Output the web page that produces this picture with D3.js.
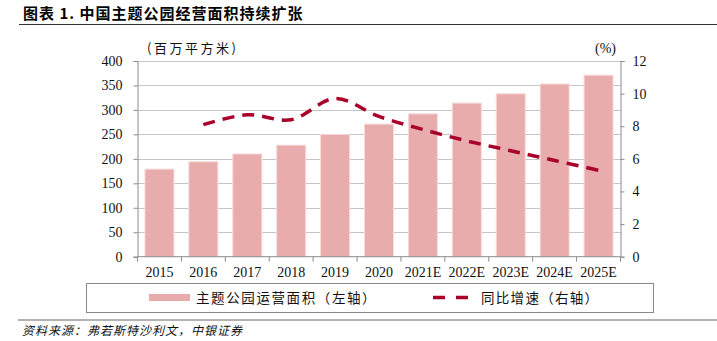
<!DOCTYPE html>
<html>
<head>
<meta charset="utf-8">
<script src="https://cdn.jsdelivr.net/npm/d3@7"></script>
<style>
  body { margin: 0; background: #fff; }
  svg { display: block; }
  .num { font-family: "Liberation Serif", "Times New Roman", serif; }
  .cjk { font-family: "Noto Sans CJK SC", sans-serif; }
</style>
</head>
<body>
<svg id="chart"></svg>
<script>
var years = ["2015", "2016", "2017", "2018", "2019", "2020", "2021E", "2022E", "2023E", "2024E", "2025E"];
var area = [179, 194, 210, 228, 250, 271, 292, 314, 333, 353, 371];
var growthYears = ["2016", "2017", "2018", "2019", "2020", "2021E", "2022E", "2023E", "2024E", "2025E"];
var growth = [8.1, 8.7, 8.4, 9.7, 8.6, 7.8, 7.1, 6.5, 5.9, 5.3];
var leftTicks = [0, 50, 100, 150, 200, 250, 300, 350, 400];
var rightTicks = [0, 2, 4, 6, 8, 10, 12];

var width = 717, height = 341;
var barColor = "#e9acac", lineColor = "#a8002b", axisColor = "#8c8c8c";

var svg = d3.select("#chart").attr("width", width).attr("height", height);

// title and rule
svg.append("text").attr("class", "cjk")
    .attr("x", 23).attr("y", 19)
    .style("font-size", "15px").style("font-weight", "bold").style("letter-spacing", "1px")
    .text("图表 1. 中国主题公园经营面积持续扩张");
svg.append("line").attr("x1", 19).attr("x2", width).attr("y1", 24.5).attr("y2", 24.5)
    .attr("stroke", "#333").attr("stroke-width", 1.2);

var m = { left: 137.5, right: 620.5, top: 61, bottom: 256.7 };

var x = d3.scaleBand().domain(years).range([m.left, m.right]).paddingInner(0.34).paddingOuter(0.17);
var yL = d3.scaleLinear().domain([0, 400]).range([m.bottom, m.top]);
var yR = d3.scaleLinear().domain([0, 12]).range([m.bottom, m.top]);

// dotted gridlines
svg.append("g").selectAll("line").data(leftTicks.slice(1)).enter().append("line")
    .attr("x1", m.left).attr("x2", m.right)
    .attr("y1", function (d) { return Math.round(yL(d)) + 0.5; })
    .attr("y2", function (d) { return Math.round(yL(d)) + 0.5; })
    .attr("stroke", "#8a8a8a").attr("stroke-dasharray", "1,1");

// bars
svg.append("g").selectAll("rect").data(years).enter().append("rect")
    .attr("x", function (d) { return x(d); })
    .attr("width", x.bandwidth())
    .attr("y", function (d, i) { return yL(area[i]); })
    .attr("height", function (d, i) { return m.bottom - yL(area[i]); })
    .attr("fill", barColor)
    .attr("stroke", "#f6dada").attr("stroke-width", 1);

// left axis
var axL = svg.append("g").attr("transform", "translate(" + (m.left) + ",0)")
    .call(d3.axisLeft(yL).tickValues(leftTicks).tickSize(4).tickPadding(11));
// right axis
var axR = svg.append("g").attr("transform", "translate(" + (m.right) + ",0)")
    .call(d3.axisRight(yR).tickValues(rightTicks).tickSize(4).tickPadding(8));
// bottom axis, ticks between categories
var step = x.step();
var bottomEdges = d3.range(years.length + 1).map(function (i) { return m.left + i * step; });
var axB = svg.append("g").attr("transform", "translate(0," + m.bottom + ")");
axB.append("line").attr("x1", m.left).attr("x2", m.right).attr("stroke", axisColor);
axB.selectAll("line.tk").data(bottomEdges).enter().append("line").attr("class", "tk")
    .attr("x1", function (d) { return d; }).attr("x2", function (d) { return d; })
    .attr("y1", 0).attr("y2", 5).attr("stroke", axisColor);
axB.selectAll("text").data(years).enter().append("text").attr("class", "num")
    .attr("x", function (d) { return x(d) + x.bandwidth() / 2; })
    .attr("y", 20).attr("text-anchor", "middle")
    .style("font-size", "14px").attr("fill", "#111")
    .text(function (d) { return d; });

[axL, axR].forEach(function (ax) {
    ax.select(".domain").attr("stroke", axisColor);
    ax.selectAll(".tick line").attr("stroke", axisColor);
    ax.selectAll(".tick text").attr("class", "num")
        .style("font-size", "14px").attr("fill", "#111");
});

// growth line
var line = d3.line()
    .x(function (d, i) { return x(growthYears[i]) + x.bandwidth() / 2; })
    .y(function (d) { return yR(d); })
    .curve(d3.curveCatmullRom.alpha(0.5));
svg.append("path").datum(growth)
    .attr("d", line)
    .attr("fill", "none").attr("stroke", lineColor)
    .attr("stroke-width", 3.5).attr("stroke-dasharray", "12,8");

// unit labels
svg.append("text").attr("class", "cjk").attr("x", 147).attr("y", 53)
    .style("font-size", "13px").style("letter-spacing", "2.5px").attr("fill", "#111")
    .text("(百万平方米)");
svg.append("text").attr("class", "num").attr("x", 595).attr("y", 53)
    .style("font-size", "14px").attr("fill", "#111")
    .text("(%)");

// legend
var lg = svg.append("g");
lg.append("rect").attr("x", 86.5).attr("y", 283.5).attr("width", 567).attr("height", 29)
    .attr("fill", "#fff").attr("stroke", "#888");
lg.append("rect").attr("x", 149).attr("y", 294).attr("width", 41).attr("height", 7).attr("fill", barColor);
lg.append("text").attr("class", "cjk").attr("x", 196).attr("y", 302.5)
    .style("font-size", "13.5px").style("letter-spacing", "1.6px").attr("fill", "#111")
    .text("主题公园运营面积（左轴）");
lg.append("line").attr("x1", 433).attr("x2", 469).attr("y1", 297.5).attr("y2", 297.5)
    .attr("stroke", lineColor).attr("stroke-width", 3.5).attr("stroke-dasharray", "12,11");
lg.append("text").attr("class", "cjk").attr("x", 481).attr("y", 302.5)
    .style("font-size", "13.5px").style("letter-spacing", "1.3px").attr("fill", "#111")
    .text("同比增速（右轴）");

// footer rule and source
svg.append("line").attr("x1", 18).attr("x2", width).attr("y1", 320).attr("y2", 320)
    .attr("stroke", "#666").attr("stroke-width", 1.2);
svg.append("text").attr("class", "cjk").attr("x", 22).attr("y", 335)
    .style("font-size", "12px").style("font-style", "italic").style("letter-spacing", "1px")
    .attr("fill", "#111")
    .text("资料来源：弗若斯特沙利文，中银证券");
</script>
</body>
</html>
